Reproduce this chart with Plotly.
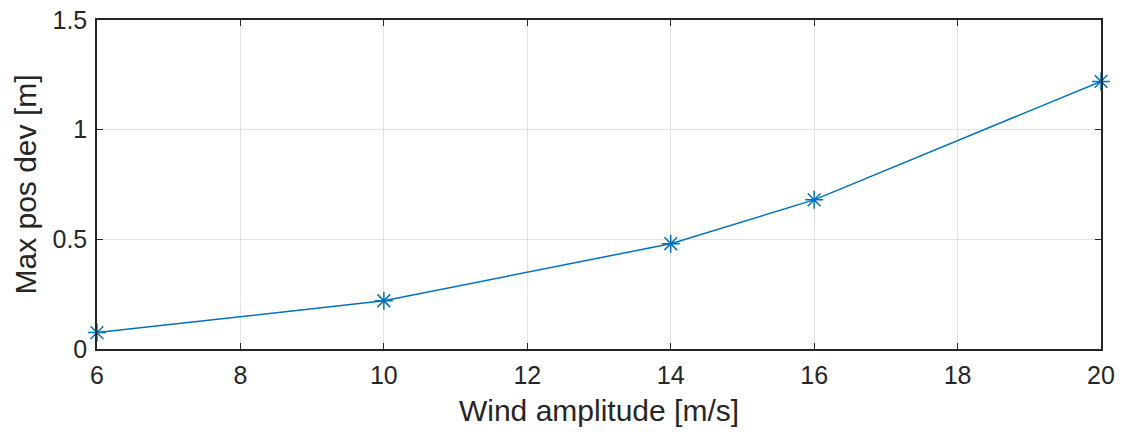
import plotly.graph_objects as go

wind_amplitude = [6, 10, 14, 16, 20]
max_pos_dev = [0.075, 0.22, 0.48, 0.68, 1.22]

x_ticks = [6, 8, 10, 12, 14, 16, 18, 20]
y_ticks = [0, 0.5, 1, 1.5]
y_tick_labels = ["0", "0.5", "1", "1.5"]

fig = go.Figure()
fig.add_trace(go.Scatter(
    x=wind_amplitude, y=max_pos_dev, mode="lines+markers",
    line=dict(color="#0072BD", width=1.5),
    marker=dict(symbol="asterisk-open", size=15, color="#0072BD",
                line=dict(color="#0072BD", width=1.5)),
    cliponaxis=False, showlegend=False,
))

axis_common = dict(
    showline=True, linecolor="#262626", linewidth=1.5, mirror="ticks",
    ticks="inside", ticklen=6, tickwidth=1, tickcolor="#262626",
    showgrid=True, gridcolor="#E3E3E3", gridwidth=1, zeroline=False,
    automargin=False, ticklabeloverflow="allow",
    tickfont=dict(family="Liberation Sans, Arial", size=25, color="#262626"),
)

fig.update_layout(
    width=1125, height=434,
    margin=dict(l=97, r=24, t=20, b=85),
    paper_bgcolor="white", plot_bgcolor="white",
    font=dict(family="Liberation Sans, Arial", color="#262626"),
    xaxis=dict(range=[6, 20], tickvals=x_ticks, ticklabelstandoff=3, **axis_common,
               title=dict(text="Wind amplitude [m/s]",
                          font=dict(size=30, color="#262626"), standoff=12)),
    yaxis=dict(range=[0, 1.5], tickvals=y_ticks, ticktext=y_tick_labels,
               ticklabelstandoff=3, **axis_common,
               title=dict(text="Max pos dev [m]",
                          font=dict(size=30, color="#262626"), standoff=7)),
)

fig.write_html("out.html", config={"displayModeBar": False},
               post_script="document.body.style.margin='0';document.body.style.overflow='hidden';")
